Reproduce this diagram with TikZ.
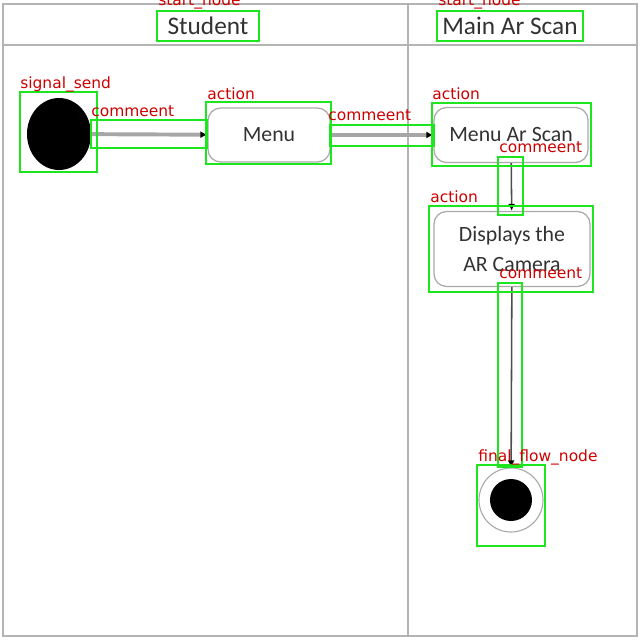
\documentclass[tikz,border=0pt]{standalone}
\usepackage{fontspec}
\setmainfont{Carlito}
\newfontfamily\tagfont{DejaVu Sans}
\usepackage{tikz}
\usetikzlibrary{shapes,arrows.meta,positioning,calc}

\definecolor{lanegray}{RGB}{180,180,180}
\definecolor{boxgray}{RGB}{170,170,170}
\definecolor{textgray}{RGB}{50,50,50}
\definecolor{annotgreen}{RGB}{30,230,30}
\definecolor{tagred}{RGB}{205,0,0}

\begin{document}
\begin{tikzpicture}[
    x=0.025cm, y=-0.025cm,
    lane/.style={draw=lanegray, line width=2pt},
    header/.style={font=\fontsize{18}{20}\selectfont, text=textgray, inner sep=0pt},
    action/.style={rectangle, rounded corners=9pt, draw=boxgray, line width=0.9pt, align=center,
        font=\fontsize{15.5}{21}\selectfont, text=textgray},
    flow/.style={-{Latex[length=5pt,width=5pt,color=black]}, draw=gray!70, line width=2.8pt},
    down/.style={-{Latex[length=5pt,width=5pt,color=black]}, draw=black!70, line width=1.1pt},
    annot/.style={draw=annotgreen, line width=1.6pt},
    tag/.style={text=tagred, font=\tagfont\fontsize{11}{11}\selectfont, inner sep=0pt, anchor=base west}
]
    \useasboundingbox (0,0) rectangle (640,640);

    % swimlanes
    \draw[lane] (3,4) rectangle (637,636);
    \draw[lane] (3,45) -- (637,45);
    \draw[lane] (408,4) -- (408,636);
    \node[header] (student) at (208,26) {Student};
    \node[header] (scan) at (510,26) {Main Ar Scan};

    % activity
    \node[ellipse, fill=black, minimum width=1.6cm, minimum height=1.8cm, inner sep=0pt] (start) at (59,134) {};
    \node[action, minimum width=3.05cm, minimum height=1.35cm] (menu) at (269,135) {Menu};
    \node[action, minimum width=3.85cm, minimum height=1.375cm] (menuscan) at (511,135) {Menu Ar Scan};
    \node[action, minimum width=3.9cm, minimum height=1.875cm] (camera) at (512,249) {Displays the\\AR Camera};
    \node[circle, draw=boxgray, line width=0.8pt, minimum size=1.6cm, inner sep=0pt] (final) at (511,500) {};
    \node[circle, fill=black, minimum size=1.05cm, inner sep=0pt] (finaldot) at (final.center) {};

    \draw[flow] (start) -- (menu);
    \draw[flow] (menu) -- (menuscan);
    \draw[down] (menuscan) -- (camera);
    \draw[down] (camera) -- (final);

    % detection boxes
    \draw[annot] (157,11) rectangle (259,41);
    \node[tag] (t1) at (158,5) {start\_node};
    \draw[annot] (437,11) rectangle (583,41);
    \node[tag] (t2) at (438,5) {start\_node};
    \draw[annot] (20,92) rectangle (97,172);
    \node[tag] (t3) at (20,88) {signal\_send};
    \draw[annot] (91,120) rectangle (207,148);
    \node[tag] (t4) at (91,116) {commeent};
    \draw[annot] (206,102) rectangle (331,164);
    \node[tag] (t5) at (207,99) {action};
    \draw[annot] (330,125) rectangle (434,146);
    \node[tag] (t6) at (328,120) {commeent};
    \draw[annot] (432,103) rectangle (591,166);
    \node[tag] (t7) at (432,99) {action};
    \draw[annot] (498,157) rectangle (523,215);
    \node[tag] (t8) at (499,152) {commeent};
    \draw[annot] (429,206) rectangle (593,292);
    \node[tag] (t9) at (430,202) {action};
    \draw[annot] (498,283) rectangle (522,467);
    \node[tag] (t10) at (499,278) {commeent};
    \draw[annot] (477,465) rectangle (545,546);
    \node[tag] (t11) at (478,461) {final\_flow\_node};
\end{tikzpicture}
\end{document}
